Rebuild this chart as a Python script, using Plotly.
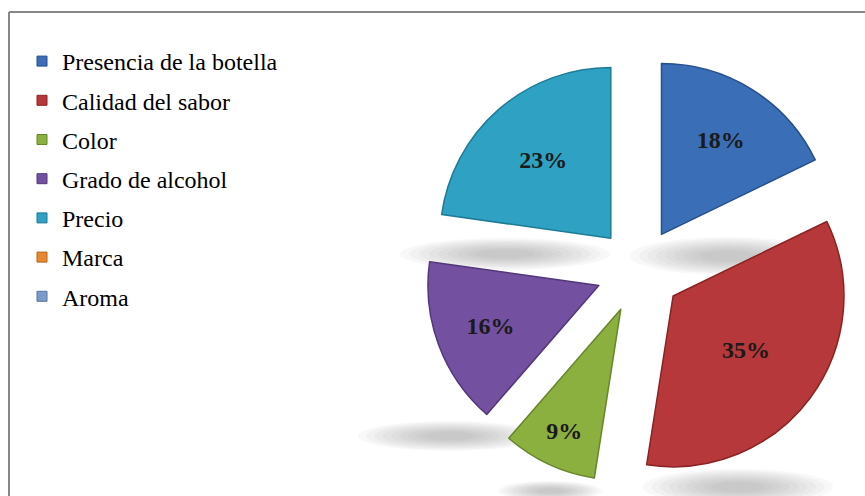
import plotly.graph_objects as go

# Survey shares per purchase factor (percent)
categories = ["Presencia de la botella", "Calidad del sabor", "Color",
              "Grado de alcohol", "Precio", "Marca", "Aroma"]
shares = [18, 35, 9, 16, 23, 0, 0]

# Slice fills and darker rims
fills = ["#3a6fb7", "#b6383a", "#8cb03f", "#7350a0", "#2fa2c3", "#e8872e", "#7d9bc9"]
rims = ["#274f8c", "#8a2323", "#668629", "#523779", "#1d7b96", "#b5651c", "#57749f"]

pie_idx = [i for i, v in enumerate(shares) if v > 0]

fig = go.Figure()

# Soft drop shadows under the exploded slices (stacked translucent ellipses)
shadow_spots = [  # (cx, cy, half-width, half-height) in pixels
    (505, 254, 105, 16),
    (728, 256, 98, 19),
    (450, 436, 92, 15),
    (550, 491, 52, 10),
    (738, 487, 95, 18),
]
W, H = 865, 496
shapes = []
for cx, cy, hw, hh in shadow_spots:
    n = 9
    for k in range(n):
        f = 1.0 - k * 0.09
        shapes.append(dict(
            type="circle", xref="paper", yref="paper", layer="below",
            x0=(cx - hw * f) / W, x1=(cx + hw * f) / W,
            y0=1 - (cy + hh * f) / H, y1=1 - (cy - hh * f) / H,
            fillcolor="#8a8a8a", opacity=0.06, line=dict(width=0),
        ))

# Chart frame (left and top edges)
shapes.append(dict(type="line", xref="paper", yref="paper",
                   x0=9 / W, x1=1, y0=1 - 12 / H, y1=1 - 12 / H,
                   line=dict(color="#878787", width=2)))
shapes.append(dict(type="line", xref="paper", yref="paper",
                   x0=9 / W, x1=9 / W, y0=0, y1=1 - 12 / H,
                   line=dict(color="#878787", width=2)))

fig.add_trace(go.Pie(
    labels=[categories[i] for i in pie_idx],
    values=[shares[i] for i in pie_idx],
    sort=False,
    direction="clockwise",
    rotation=0,
    pull=[0.25] * len(pie_idx),
    marker=dict(colors=[fills[i] for i in pie_idx],
                line=dict(color=[rims[i] for i in pie_idx], width=1.5)),
    texttemplate="%{value}%",
    textposition="inside",
    insidetextorientation="horizontal",
    textfont=dict(family="Liberation Serif", size=24, color="#1a1a1a",
                  weight="bold"),
    domain=dict(x=[0.490, 0.987], y=[0.024, 0.885]),
    showlegend=False,
    hoverinfo="label+value",
))

# Legend entries for every factor, including those with no share
for name, c, r in zip(categories, fills, rims):
    fig.add_trace(go.Scatter(
        x=[None], y=[None], mode="markers", name=name, legendgroup=name,
        marker=dict(symbol="square", size=10, color=c, line=dict(color=r, width=1)),
    ))

fig.update_layout(
    width=W, height=H,
    margin=dict(l=0, r=0, t=0, b=0),
    paper_bgcolor="white", plot_bgcolor="white",
    xaxis=dict(visible=False), yaxis=dict(visible=False),
    shapes=shapes,
    legend=dict(
        x=22 / W, y=1 - 39 / H, xanchor="left", yanchor="top",
        font=dict(family="Liberation Serif", size=24, color="#000000"),
        tracegroupgap=5, bgcolor="rgba(0,0,0,0)",
    ),
)

fig.write_html("out.html")
